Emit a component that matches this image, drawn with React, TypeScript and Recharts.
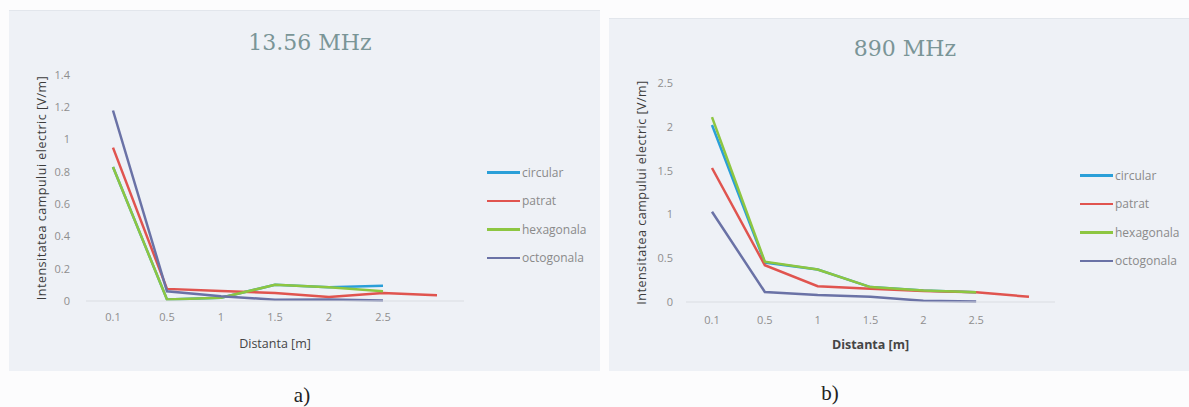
import { Label, Legend, Line, LineChart, XAxis, YAxis } from 'recharts'

const distances = ['0.1', '0.5', '1', '1.5', '2', '2.5', '']
const seriesNames = ['circular', 'patrat', 'hexagonala', 'octogonala']
const seriesColors = ['#2a9fd8', '#e0544f', '#8dc641', '#6a72a6']

// 13.56 MHz
const lowCircular = [0.83, 0.01, 0.02, 0.1, 0.085, 0.095, null]
const lowPatrat = [0.95, 0.075, 0.062, 0.05, 0.025, 0.05, 0.035]
const lowHexagonala = [0.83, 0.01, 0.02, 0.1, 0.085, 0.06, null]
const lowOctogonala = [1.18, 0.06, 0.03, 0.008, 0.01, 0.003, null]
const lowTicks = [0, 0.2, 0.4, 0.6, 0.8, 1, 1.2, 1.4]

// 890 MHz
const highCircular = [2.02, 0.45, 0.37, 0.17, 0.13, 0.11, null]
const highPatrat = [1.53, 0.42, 0.18, 0.15, 0.125, 0.11, 0.06]
const highHexagonala = [2.11, 0.46, 0.37, 0.17, 0.13, 0.11, null]
const highOctogonala = [1.03, 0.115, 0.08, 0.06, 0.015, 0.005, null]
const highTicks = [0, 0.5, 1, 1.5, 2, 2.5]

const buildRows = (cols: (number | null)[][]) =>
  distances.map((d, i) => {
    const row: Record<string, string | number | null> = { d }
    seriesNames.forEach((name, k) => {
      row[name] = cols[k][i]
    })
    return row
  })

const lowData = buildRows([lowCircular, lowPatrat, lowHexagonala, lowOctogonala])
const highData = buildRows([highCircular, highPatrat, highHexagonala, highOctogonala])

const tickStyle = { fontFamily: 'Open Sans', fontSize: 11, fill: '#8e8e8e' }

// keep the series order (recharts sorts legend items by name otherwise)
function LegendBox() {
  return (
    <div style={{ fontFamily: 'Open Sans', fontSize: 12, color: '#8a8a8a' }}>
      {seriesNames.map((name, k) => (
        <div key={name} style={{ height: 28.5, display: 'flex', alignItems: 'center' }}>
          <span style={{ display: 'inline-block', width: 33, height: 2.5, background: seriesColors[k], marginRight: 2 }} />
          <span>{name}</span>
        </div>
      ))}
    </div>
  )
}

interface PanelProps {
  data: Record<string, string | number | null>[]
  width: number
  height: number
  margin: { top: number; right: number; bottom: number; left: number }
  domain: [number, number]
  ticks: number[]
  pad: number
  yTickMargin: number
  xTickMargin: number
  xLabelBold?: boolean
  legendPos: { left: number; top: number }
}

function Panel({ data, width, height, margin, domain, ticks, pad, yTickMargin, xTickMargin, xLabelBold, legendPos }: PanelProps) {
  return (
    <LineChart width={width} height={height} data={data} margin={margin}>
      <XAxis
        dataKey="d"
        interval={0}
        padding={{ left: pad, right: pad }}
        tickLine={false}
        tickSize={0}
        tickMargin={xTickMargin}
        axisLine={{ stroke: '#dadde2' }}
        tick={tickStyle}
        height={50}
      >
        <Label
          value="Distanta [m]"
          position="insideBottom"
          offset={3}
          style={{ fontFamily: 'Open Sans', fontSize: 12.5, fill: '#454545', fontWeight: xLabelBold ? 700 : 400 }}
        />
      </XAxis>
      <YAxis
        domain={domain}
        ticks={ticks}
        width={50}
        axisLine={false}
        tickLine={false}
        tickSize={0}
        tickMargin={yTickMargin}
        tick={tickStyle}
      >
        <Label
          value="Intensitatea campului electric [V/m]"
          angle={-90}
          position="insideLeft"
          offset={6}
          style={{ fontFamily: 'Open Sans', fontSize: 12.5, letterSpacing: 0.5, fill: '#3c3c3c', textAnchor: 'middle' }}
        />
      </YAxis>
      <Legend
        layout="horizontal"
        align="center"
        verticalAlign="middle"
        wrapperStyle={{ left: legendPos.left, top: legendPos.top, width: 130 }}
        content={() => <LegendBox />}
      />
      {seriesNames.map((name, k) => (
        <Line
          key={name}
          type="linear"
          dataKey={name}
          stroke={seriesColors[k]}
          strokeWidth={2.5}
          dot={false}
          activeDot={false}
          isAnimationActive={false}
        />
      ))}
    </LineChart>
  )
}

const titleStyle: React.CSSProperties = {
  position: 'absolute',
  fontFamily: 'DejaVu Serif',
  fontSize: 22,
  color: '#7a9597',
  transform: 'translate(-50%, -50%)',
  whiteSpace: 'nowrap',
}

const captionStyle: React.CSSProperties = {
  position: 'absolute',
  fontFamily: 'Liberation Serif',
  fontSize: 21,
  color: '#222',
  transform: 'translate(-50%, -50%)',
}

export default function App() {
  return (
    <div style={{ position: 'absolute', left: 0, top: 0, width: 1189, height: 407, background: '#fcfcfd', overflow: 'hidden' }}>
      <div style={{ position: 'absolute', left: 9, top: 10, width: 591, height: 360, background: '#eef1f6', borderTop: '1px solid #e2e6ec' }} />
      <div style={{ position: 'absolute', left: 609, top: 18, width: 580, height: 352, background: '#eef1f6', borderTop: '1px solid #e2e6ec' }} />

      <div style={{ position: 'absolute', left: 9, top: 10 }}>
        <Panel
          data={lowData}
          width={591}
          height={360}
          margin={{ top: 65, right: 136, bottom: 19, left: 27 }}
          domain={[0, 1.4]}
          ticks={lowTicks}
          pad={27}
          yTickMargin={16}
          xTickMargin={12}
          legendPos={{ left: 478, top: 148 }}
        />
      </div>
      <div style={{ position: 'absolute', left: 609, top: 18 }}>
        <Panel
          data={highData}
          width={580}
          height={352}
          margin={{ top: 65, right: 134, bottom: 18, left: 27 }}
          domain={[0, 2.5]}
          ticks={highTicks}
          pad={26}
          yTickMargin={13}
          xTickMargin={14}
          xLabelBold
          legendPos={{ left: 471, top: 143 }}
        />
      </div>

      <div style={{ ...titleStyle, left: 310, top: 42 }}>13.56 MHz</div>
      <div style={{ ...titleStyle, left: 905, top: 48 }}>890 MHz</div>
      <div style={{ ...captionStyle, left: 302, top: 395 }}>a)</div>
      <div style={{ ...captionStyle, left: 830, top: 393 }}>b)</div>
    </div>
  )
}
